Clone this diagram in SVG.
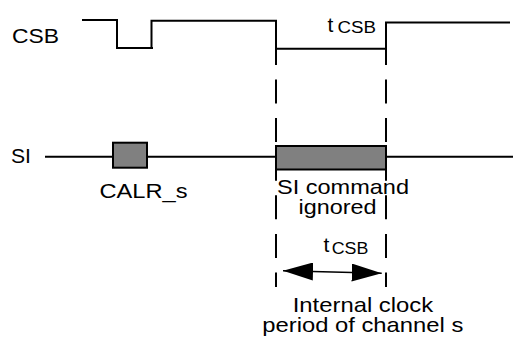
<svg xmlns="http://www.w3.org/2000/svg" width="513" height="337" viewBox="0 0 513 337">
  <defs>
    <style>
      .wave { fill: none; stroke: #000; stroke-width: 2; }
      .dash { fill: none; stroke: #000; stroke-width: 2; stroke-dasharray: 24 14.6; stroke-dashoffset: 7.6; }
      .box { fill: #808080; stroke: #000; stroke-width: 2; }
      .lbl { font-family: "Liberation Sans", Arial, sans-serif; font-size: 21px; fill: #000; }
      .sub { font-size: 16px; }
      .dim { fill: none; stroke: #000; stroke-width: 1.5; }
    </style>
    <marker id="arr" markerUnits="userSpaceOnUse" markerWidth="31" markerHeight="18" refX="30" refY="9" orient="auto-start-reverse">
      <path d="M0,0 L30,9 L0,18 Z" fill="#000"/>
    </marker>
  </defs>

  <g id="connectors">
    <line class="dash" x1="276" y1="48.5" x2="276" y2="287"/>
    <line class="dash" x1="386" y1="48.5" x2="386" y2="287"/>
    <line class="dim" x1="283" y1="270.8" x2="381.7" y2="273.3" marker-start="url(#arr)" marker-end="url(#arr)"/>
  </g>

  <g id="csb">
    <text class="lbl" x="12" y="42.7" textLength="47" lengthAdjust="spacingAndGlyphs">CSB</text>
    <polyline class="wave" points="82,20 117,20 117,48 153,48"/>
    <polyline class="wave" points="151.5,48 151.5,20.8 276,20.8 276,48.7 386,48.7 386,22.6 510,22.6"/>
  </g>

  <g id="tcsb-top">
    <text class="lbl" x="327.5" y="32">t<tspan class="sub" x="337.5" y="33.3" textLength="38.5" lengthAdjust="spacingAndGlyphs">CSB</tspan></text>
  </g>

  <g id="si">
    <text class="lbl" x="11" y="163.3" textLength="20" lengthAdjust="spacingAndGlyphs">SI</text>
    <line class="wave" x1="45" y1="156.7" x2="513" y2="156.7"/>
  </g>

  <g id="calr">
    <rect class="box" x="113" y="142.7" width="34" height="25"/>
    <text class="lbl" x="99.5" y="197.7" textLength="88" lengthAdjust="spacingAndGlyphs">CALR_s</text>
  </g>

  <g id="si-command">
    <rect class="box" x="276" y="146" width="110" height="23.5"/>
    <text class="lbl" x="277" y="194" textLength="132" lengthAdjust="spacingAndGlyphs">SI command</text>
    <text class="lbl" x="298.5" y="214" textLength="78" lengthAdjust="spacingAndGlyphs">ignored</text>
  </g>

  <g id="tcsb-bottom">
    <text class="lbl" x="323.5" y="252">t<tspan class="sub" x="331.7" y="254" textLength="36.6" lengthAdjust="spacingAndGlyphs">CSB</tspan></text>
  </g>

  <g id="clock-label">
    <text class="lbl" x="292.7" y="311.7" textLength="140.5" lengthAdjust="spacingAndGlyphs">Internal clock</text>
    <text class="lbl" x="262.3" y="331.5" textLength="201" lengthAdjust="spacingAndGlyphs">period of channel s</text>
  </g>
</svg>
